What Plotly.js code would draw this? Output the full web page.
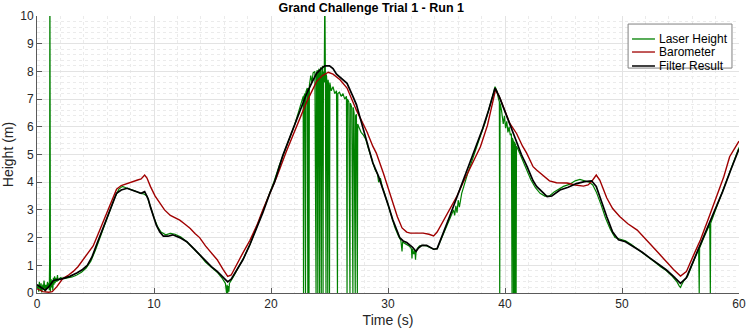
<!DOCTYPE html>
<html>
<head>
<meta charset="utf-8">
<script src="https://cdn.plot.ly/plotly-3.0.1.min.js"></script>
<style>
  html, body { margin: 0; padding: 0; background: #fff; }
  #chart { width: 747px; height: 329px; }
</style>
</head>
<body>
<div id="chart"></div>
<script>
// Filter result (black)
let filterT = [0, 0.4, 0.7, 1.0, 1.4, 2.2, 2.8, 3.4, 3.9, 4.3, 4.7, 5.1, 5.6, 6.0, 6.4, 6.8, 7.2, 7.7, 8.1, 8.5,
	8.9, 9.2, 9.5, 9.7, 10.0, 10.2, 10.5, 10.8, 11.2, 11.6, 12.2, 12.8, 13.4, 13.9, 14.4, 14.9, 15.4, 15.9, 16.3, 16.6,
	17.1, 17.6, 18.2, 18.8, 19.3, 19.9, 20.3, 21.0, 21.5, 22.2, 22.6, 23.05, 23.5, 23.9, 24.3, 24.6, 25.0, 25.3, 25.6, 26.0,
	26.5, 27.0, 27.3, 27.6, 28.2, 28.7, 29.2, 29.6, 30.0, 30.4, 30.7, 31.0, 31.3, 31.6, 32.1, 32.4, 32.6, 32.9, 33.3, 33.6,
	33.9, 34.2, 34.4, 34.8, 35.3, 35.8, 36.2, 36.8, 37.3, 38.1, 38.6, 39.15, 39.5, 40.1, 40.5, 41.0, 41.4, 41.85, 42.4, 42.7,
	43.3, 43.6, 44.0, 44.4, 44.7, 45.4, 46.1, 46.8, 47.4, 47.8, 48.2, 48.7, 49.2, 49.7, 50.3, 51.0, 51.7, 52.4, 53.1, 53.8,
	54.4, 55.0, 55.5, 56.1, 56.7, 57.5, 58.0, 58.6, 59.3, 60.0];
let filterH = [0.3, 0.18, 0.1, 0.22, 0.45, 0.52, 0.6, 0.72, 0.85, 1.0, 1.3, 1.75, 2.3, 2.75, 3.2, 3.6, 3.72, 3.78, 3.72, 3.65,
	3.6, 3.66, 3.4, 3.1, 2.7, 2.45, 2.2, 2.05, 2.05, 2.1, 2.0, 1.85, 1.6, 1.38, 1.15, 0.95, 0.78, 0.55, 0.4, 0.5,
	0.83, 1.2, 1.75, 2.35, 2.9, 3.6, 4.0, 4.95, 5.5, 6.25, 6.7, 7.2, 7.6, 7.93, 8.1, 8.2, 8.2, 8.1, 7.9, 7.75,
	7.57, 7.1, 6.8, 6.35, 5.5, 4.7, 4.2, 3.72, 3.2, 2.65, 2.3, 2.0, 1.88, 1.82, 1.65, 1.5, 1.62, 1.72, 1.72, 1.65,
	1.58, 1.6, 1.8, 2.25, 2.8, 3.35, 3.8, 4.45, 5.0, 5.95, 6.6, 7.4, 7.1, 6.45, 6.0, 5.5, 5.0, 4.6, 4.05, 3.85,
	3.6, 3.48, 3.5, 3.62, 3.72, 3.82, 3.95, 4.02, 4.05, 3.85, 3.35, 2.75, 2.2, 1.92, 1.85, 1.68, 1.48, 1.26, 1.05, 0.83,
	0.6, 0.35, 0.55, 1.15, 1.73, 2.5, 3.0, 3.66, 4.45, 5.2];

// Barometer (dark red)
let baroT = [0, 0.5, 1.0, 1.3, 1.7, 2.2, 2.7, 3.1, 3.5, 3.9, 4.4, 4.8, 5.2, 5.6, 6.0, 6.4, 6.8, 7.2, 7.7, 8.1,
	8.6, 8.9, 9.2, 9.4, 9.7, 10.1, 10.5, 10.9, 11.4, 11.8, 12.2, 12.6, 13.1, 13.5, 13.9, 14.4, 14.9, 15.4, 15.9, 16.3,
	16.6, 17.1, 17.6, 18.2, 18.8, 19.3, 19.9, 20.5, 21.3, 22.2, 23.05, 23.9, 24.4, 24.9, 25.3, 25.9, 26.5, 27.3, 28.2, 28.7,
	29.0, 29.6, 30.0, 30.4, 30.8, 31.2, 31.6, 31.9, 32.5, 33.0, 33.5, 33.9, 34.2, 34.4, 34.9, 35.3, 35.9, 36.4, 37.1, 37.9,
	38.5, 39.2, 39.6, 40.0, 40.4, 41.0, 41.5, 41.85, 42.4, 42.7, 43.2, 43.8, 44.4, 45.3, 46.0, 46.7, 47.1, 47.4, 47.8, 48.1,
	48.7, 49.2, 49.8, 50.5, 51.3, 51.9, 52.4, 53.1, 53.8, 54.4, 55.0, 55.5, 56.1, 56.7, 57.4, 58.1, 58.7, 59.2, 60.0];
let baroH = [0.15, 0.05, 0.03, 0.05, 0.23, 0.52, 0.65, 0.78, 0.95, 1.19, 1.45, 1.7, 2.1, 2.5, 2.9, 3.35, 3.75, 3.88, 3.96, 4.02,
	4.08, 4.12, 4.26, 4.15, 3.84, 3.5, 3.24, 3.0, 2.8, 2.72, 2.63, 2.5, 2.33, 2.15, 2.0, 1.7, 1.45, 1.2, 0.85, 0.6,
	0.65, 1.08, 1.45, 1.9, 2.45, 3.0, 3.6, 4.2, 5.1, 6.0, 6.9, 7.64, 7.85, 7.97, 7.9, 7.7, 7.4, 6.6, 5.82, 5.3,
	5.05, 4.33, 3.8, 3.25, 2.75, 2.35, 2.2, 2.16, 2.15, 2.16, 2.12, 2.06, 2.2, 2.35, 2.7, 3.0, 3.5, 3.97, 4.6, 5.28,
	6.05, 7.35, 7.0, 6.55, 6.13, 5.75, 5.3, 5.05, 4.56, 4.44, 4.25, 4.05, 3.98, 3.97, 3.9, 3.86, 3.9, 4.02, 4.26, 4.08,
	3.43, 3.05, 2.76, 2.5, 2.27, 2.0, 1.8, 1.45, 1.13, 0.85, 0.61, 0.77, 1.35, 1.91, 2.7, 3.48, 4.2, 4.92, 5.48];

// Laser height (green), noisy with dropouts to 0 and spikes
let laserT = [0.0, 0.1, 0.15, 0.2, 0.3, 0.35, 0.4, 0.5, 0.55, 0.6, 0.7, 0.75, 0.8, 0.9, 0.95, 1.0, 1.05, 1.08, 1.1, 1.12,
	1.15, 1.2, 1.25, 1.3, 1.35, 1.4, 1.45, 1.5, 1.55, 1.6, 1.7, 1.75, 1.8, 1.9, 2.0, 2.3, 2.6, 3.0, 3.4, 3.8,
	4.2, 4.6, 5.0, 5.4, 5.8, 6.2, 6.6, 7.0, 7.3, 7.6, 8.0, 8.4, 8.8, 9.1, 9.4, 9.7, 10.0, 10.3, 10.6, 11.0,
	11.4, 11.8, 12.3, 12.8, 13.4, 13.9, 14.4, 14.9, 15.4, 15.8, 16.1, 16.2, 16.25, 16.3, 16.35, 16.4, 16.45, 16.8, 17.2, 17.7,
	18.2, 18.7, 19.2, 19.7, 20.2, 20.7, 21.2, 21.6, 22.0, 22.4, 22.6, 22.75, 22.78, 22.81, 22.9, 22.95, 22.98, 23.1, 23.15, 23.18,
	23.25, 23.28, 23.4, 23.5, 23.6, 23.75, 23.85, 23.88, 23.95, 24.0, 24.03, 24.1, 24.15, 24.18, 24.25, 24.3, 24.33, 24.4, 24.45, 24.48,
	24.55, 24.6, 24.65, 24.7, 24.73, 24.8, 24.85, 24.88, 24.95, 25.0, 25.03, 25.15, 25.3, 25.45, 25.6, 25.68, 25.71, 25.85, 26.0, 26.15,
	26.3, 26.45, 26.5, 26.53, 26.65, 26.75, 26.78, 26.9, 27.0, 27.03, 27.1, 27.2, 27.23, 27.3, 27.38, 27.41, 27.5, 27.7, 27.9, 28.1,
	28.3, 28.6, 28.9, 29.1, 29.2, 29.35, 29.5, 29.7, 30.0, 30.3, 30.6, 30.9, 31.1, 31.2, 31.25, 31.4, 31.6, 31.8, 32.0, 32.05,
	32.1, 32.2, 32.3, 32.35, 32.4, 32.5, 32.7, 33.0, 33.3, 33.6, 33.9, 34.2, 34.5, 34.9, 35.3, 35.6, 35.7, 35.8, 35.9, 36.0,
	36.1, 36.3, 36.8, 37.3, 37.8, 38.3, 38.7, 39.0, 39.15, 39.3, 39.45, 39.52, 39.55, 39.58, 39.7, 39.85, 39.95, 40.05, 40.15, 40.25,
	40.35, 40.45, 40.55, 40.6, 40.63, 40.7, 40.72, 40.75, 40.8, 40.83, 40.88, 40.91, 40.95, 40.98, 41.1, 41.4, 41.8, 42.2, 42.6, 43.0,
	43.4, 43.8, 44.2, 44.6, 45.0, 45.5, 46.0, 46.4, 46.8, 47.2, 47.5, 47.8, 48.2, 48.6, 49.0, 49.4, 49.8, 50.3, 50.8, 51.3,
	51.8, 52.3, 52.8, 53.3, 53.8, 54.3, 54.7, 54.9, 55.0, 55.1, 55.3, 55.6, 56.0, 56.4, 56.55, 56.6, 56.63, 57.0, 57.5, 57.55,
	57.58, 58.0, 58.5, 59.0, 59.5, 60.0];
let laserH = [0.15, 0.3, 0.05, 0.4, 0.1, 0.35, 0.02, 0.3, 0.15, 0.45, 0.05, 0.3, 0.1, 0.4, 0.2, 0.35, 0.1, 1.15, 12, 0.3,
	0.05, 0.5, 0.2, 0.45, 0.1, 0.55, 0.3, 0.6, 0.35, 0.55, 0.4, 0.65, 0.45, 0.5, 0.55, 0.52, 0.55, 0.58, 0.65, 0.75,
	0.9, 1.15, 1.55, 2.0, 2.45, 2.9, 3.4, 3.75, 3.85, 3.8, 3.75, 3.68, 3.6, 3.58, 3.5, 3.1, 2.72, 2.4, 2.2, 2.1,
	2.15, 2.12, 2.02, 1.85, 1.6, 1.38, 1.12, 0.92, 0.75, 0.55, 0.35, 0.0, 0.3, 0.0, 0.25, 0.05, 0.35, 0.6, 0.9, 1.3,
	1.75, 2.3, 2.85, 3.4, 3.95, 4.6, 5.15, 5.6, 6.05, 6.6, 6.9, 7.1, 0, 7.1, 7.2, 0, 7.25, 7.4, 0, 7.4,
	0, 7.5, 7.85, 7.6, 7.95, 8.0, 0, 7.9, 8.05, 0, 7.8, 8.1, 0, 7.9, 8.15, 0, 7.7, 8.2, 0, 8.0,
	7.6, 11, 7.8, 0, 7.9, 7.5, 0, 7.7, 7.4, 0, 7.6, 7.3, 7.45, 7.2, 7.3, 0, 7.2, 7.25, 7.1, 7.2,
	7.0, 7.1, 0, 7.0, 6.9, 0, 6.85, 6.7, 0, 6.7, 6.5, 0, 6.4, 6.45, 0, 6.1, 6.0, 5.8, 5.7, 5.55,
	5.25, 4.85, 4.45, 4.3, 4.0, 4.15, 3.85, 3.6, 3.2, 2.75, 2.35, 2.05, 1.9, 1.5, 1.85, 1.8, 1.75, 1.7, 1.6, 1.25,
	1.6, 1.4, 1.55, 1.2, 1.5, 1.6, 1.7, 1.72, 1.7, 1.65, 1.58, 1.6, 1.9, 2.3, 2.75, 3.0, 2.8, 3.15, 2.9, 3.35,
	3.1, 3.6, 4.3, 4.95, 5.55, 6.15, 6.7, 7.2, 7.45, 7.3, 7.0, 6.9, 0, 6.85, 6.6, 6.1, 6.4, 5.95, 6.2, 5.8,
	6.0, 5.7, 5.75, 0, 5.6, 5.5, 0, 5.5, 0, 5.45, 0, 5.4, 0, 5.3, 5.2, 4.9, 4.5, 4.1, 3.8, 3.6,
	3.5, 3.5, 3.65, 3.75, 3.85, 3.92, 4.05, 4.1, 4.05, 4.0, 3.9, 3.65, 3.2, 2.7, 2.3, 2.0, 1.95, 1.88, 1.75, 1.6,
	1.45, 1.3, 1.12, 0.95, 0.8, 0.6, 0.4, 0.25, 0.2, 0.3, 0.45, 0.6, 1.05, 1.45, 1.6, 0, 1.62, 2.0, 2.48, 0,
	2.52, 3.0, 3.55, 4.15, 4.7, 5.25];

let seriesNames = ['Laser Height', 'Barometer', 'Filter Result'];
let seriesColors = ['#008000', '#a00000', '#000000'];

function createGraph() {
	let laser = {
		x: laserT, y: laserH, name: seriesNames[0],
		mode: 'lines', type: 'scatter',
		line: { color: seriesColors[0], width: 1.2 }
	};
	let baro = {
		x: baroT, y: baroH, name: seriesNames[1],
		mode: 'lines', type: 'scatter',
		line: { color: seriesColors[1], width: 1.4 }
	};
	let filter = {
		x: filterT, y: filterH, name: seriesNames[2],
		mode: 'lines', type: 'scatter',
		line: { color: seriesColors[2], width: 1.7 }
	};

	let axisCommon = {
		showline: true,
		linecolor: '#5a5a5a',
		linewidth: 1,
		ticks: 'inside',
		ticklen: 5,
		tickcolor: '#5a5a5a',
		gridcolor: '#e3e3e3',
		zeroline: false,
		tickfont: { family: 'Liberation Sans, Arial, sans-serif', size: 12, color: '#262626' }
	};

	// compact MATLAB-style legend box, drawn in paper coordinates
	let shapes = [{
		type: 'rect', xref: 'paper', yref: 'paper', layer: 'above',
		x0: 0.842, x1: 0.990, y0: 0.812, y1: 0.971,
		fillcolor: '#ffffff', line: { color: '#808080', width: 1 }
	}];
	let annotations = [];
	let rowY = [0.917, 0.870, 0.8195];
	for (let i = 0; i < seriesNames.length; i++) {
		shapes.push({
			type: 'line', xref: 'paper', yref: 'paper', layer: 'above',
			x0: 0.8476, x1: 0.8803, y0: rowY[i], y1: rowY[i],
			line: { color: seriesColors[i], width: i === 2 ? 1.5 : 1.3 }
		});
		annotations.push({
			xref: 'paper', yref: 'paper', x: 0.8825, y: rowY[i],
			xanchor: 'left', yanchor: 'middle', showarrow: false,
			text: seriesNames[i],
			font: { size: 12, color: '#000000' }
		});
	}

	let layout = {
		width: 747,
		height: 329,
		margin: { l: 37, r: 8, t: 16, b: 36 },
		paper_bgcolor: '#ffffff',
		plot_bgcolor: '#ffffff',
		font: { family: 'Liberation Sans, Arial, sans-serif', color: '#262626' },
		title: {
			text: '<b>Grand Challenge Trial 1 - Run 1</b>',
			font: { size: 12.5, color: '#000000' },
			x: 0.497, xanchor: 'center',
			y: 0.978, yanchor: 'middle'
		},
		xaxis: Object.assign({}, axisCommon, {
			range: [0, 60],
			dtick: 10,
			minor: { dtick: 2, showgrid: true, gridcolor: '#ebebeb', griddash: 'dot' },
			title: { text: 'Time (s)', font: { size: 14, color: '#262626' }, standoff: 4 }
		}),
		yaxis: Object.assign({}, axisCommon, {
			range: [0, 10],
			dtick: 1,
			minor: { dtick: 0.2, showgrid: true, gridcolor: '#ebebeb', griddash: 'dot' },
			title: { text: 'Height (m)', font: { size: 14, color: '#262626' }, standoff: 6 }
		}),
		showlegend: false,
		shapes: shapes,
		annotations: annotations
	};

	Plotly.newPlot('chart', [laser, baro, filter], layout, { staticPlot: true });
}

createGraph();
</script>
</body>
</html>
